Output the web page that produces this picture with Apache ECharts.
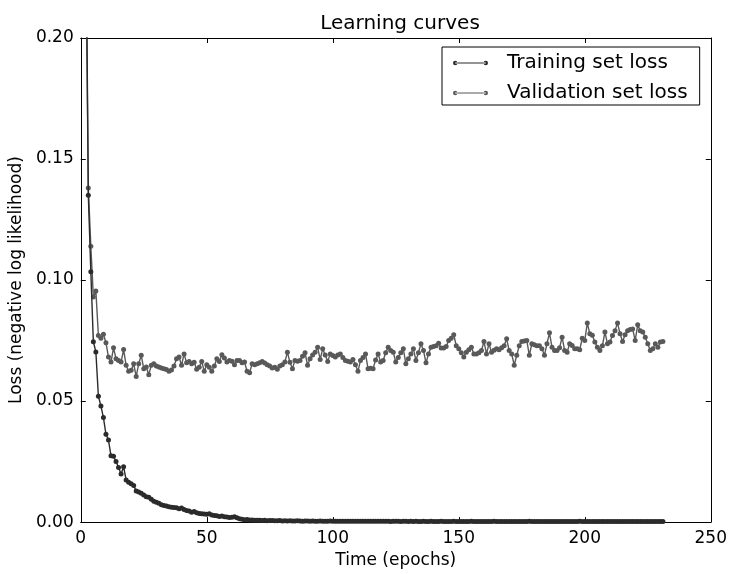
<!DOCTYPE html>
<html>
<head>
<meta charset="utf-8">
<script src="https://cdn.jsdelivr.net/npm/echarts@6/dist/echarts.min.js"></script>
<style>
  html, body { margin: 0; padding: 0; background: #fff; }
  #main { width: 730px; height: 574px; }
</style>
</head>
<body>
<div id="main"></div>
<script>
// loss per epoch (epoch 1 .. 231)
const trainLoss = [
  0.60, 0.26, 0.135, 0.1034, 0.0745, 0.0703, 0.052, 0.048, 0.0432, 0.0363,
  0.0339, 0.0274, 0.0272, 0.025, 0.0226, 0.0199, 0.0229, 0.0174, 0.0165, 0.0158,
  0.0151, 0.0128, 0.0124, 0.0119, 0.0112, 0.0105, 0.0103, 0.0094, 0.0086, 0.0082,
  0.0078, 0.0072, 0.0069, 0.0066, 0.0063, 0.0061, 0.006, 0.0059, 0.0055, 0.0058,
  0.0052, 0.0048, 0.0046, 0.0041, 0.0044, 0.0039, 0.0036, 0.0035, 0.0033, 0.0032,
  0.0034, 0.0029, 0.0027, 0.0026, 0.0023, 0.0025, 0.0022, 0.0021, 0.0019, 0.002,
  0.0022, 0.0018, 0.0014, 0.0012, 0.001, 0.0011, 0.0009, 0.0009, 0.0008, 0.0008,
  0.0008, 0.0007, 0.0008, 0.0006, 0.0007, 0.0007, 0.0006, 0.0006, 0.0007, 0.0005,
  0.0006, 0.0005, 0.0006, 0.0005, 0.0005, 0.0006, 0.0005, 0.0004, 0.0005, 0.0005,
  0.0004, 0.0005, 0.0004, 0.0004, 0.0005, 0.0004, 0.0004, 0.0004, 0.0005, 0.0004,
  0.0004, 0.0003, 0.0004, 0.0004, 0.0003, 0.0004, 0.0003, 0.0003, 0.0004, 0.0003,
  0.0003, 0.0003, 0.0004, 0.0003, 0.0003, 0.0003, 0.0003, 0.0003, 0.0004, 0.0003,
  0.0003, 0.0003, 0.0002, 0.0003, 0.0003, 0.0003, 0.0002, 0.0003, 0.0003, 0.0002,
  0.0003, 0.0002, 0.0003, 0.0002, 0.0002, 0.0003, 0.0002, 0.0002, 0.0003, 0.0002,
  0.0002, 0.0002, 0.0003, 0.0002, 0.0002, 0.0002, 0.0002, 0.0003, 0.0002, 0.0002,
  0.0002, 0.0002, 0.0002, 0.0002, 0.0003, 0.0002, 0.0002, 0.0002, 0.0002, 0.0002,
  0.0002, 0.0002, 0.0002, 0.0003, 0.0002, 0.0002, 0.0002, 0.0002, 0.0002, 0.0002,
  0.0002, 0.0002, 0.0002, 0.0002, 0.0002, 0.0002, 0.0002, 0.0003, 0.0002, 0.0002,
  0.0002, 0.0002, 0.0002, 0.0002, 0.0002, 0.0002, 0.0002, 0.0002, 0.0002, 0.0002,
  0.0002, 0.0002, 0.0002, 0.0002, 0.0002, 0.0002, 0.0002, 0.0003, 0.0002, 0.0002,
  0.0002, 0.0002, 0.0002, 0.0002, 0.0002, 0.0002, 0.0002, 0.0002, 0.0002, 0.0002,
  0.0002, 0.0002, 0.0002, 0.0002, 0.0002, 0.0002, 0.0002, 0.0002, 0.0002, 0.0002,
  0.0002, 0.0002, 0.0002, 0.0002, 0.0002, 0.0002, 0.0002, 0.0002, 0.0002, 0.0002,
  0.0002
];

const validLoss = [
  0.30, 0.24, 0.138, 0.114, 0.093, 0.0955, 0.0771, 0.076, 0.0776, 0.0741,
  0.0682, 0.0661, 0.072, 0.0675, 0.0668, 0.0661, 0.0713, 0.0648, 0.0623, 0.0627,
  0.0654, 0.0602, 0.0654, 0.0689, 0.0634, 0.0641, 0.0609, 0.0648, 0.0654, 0.0645,
  0.0641, 0.0637, 0.0634, 0.063, 0.0623, 0.0628, 0.0645, 0.0675, 0.0682, 0.0648,
  0.0695, 0.0658, 0.0664, 0.0654, 0.066, 0.0631, 0.064, 0.0664, 0.0623, 0.065,
  0.064, 0.0623, 0.0645, 0.0675, 0.0664, 0.0691, 0.0678, 0.0661, 0.0668, 0.0665,
  0.065, 0.0668, 0.0668, 0.0658, 0.0661, 0.0623, 0.0617, 0.0654, 0.065, 0.0654,
  0.0658, 0.0664, 0.0657, 0.065, 0.0645, 0.0637, 0.064, 0.0631, 0.0645, 0.065,
  0.0661, 0.0702, 0.066, 0.0634, 0.0668, 0.0665, 0.0668, 0.0685, 0.07, 0.0648,
  0.0675, 0.069, 0.0702, 0.0722, 0.0672, 0.0716, 0.069, 0.0664, 0.0695, 0.0688,
  0.0682, 0.069, 0.0695, 0.068, 0.0668, 0.0665, 0.0661, 0.0672, 0.065, 0.0623,
  0.0668, 0.068, 0.0695, 0.0634, 0.0636, 0.0634, 0.067, 0.0695, 0.0661, 0.0668,
  0.07, 0.0722, 0.0709, 0.0702, 0.0661, 0.068, 0.07, 0.0716, 0.0654, 0.0675,
  0.0695, 0.0716, 0.0668, 0.07, 0.0737, 0.0709, 0.0658, 0.0695, 0.0722, 0.0725,
  0.0729, 0.0739, 0.0719, 0.0719, 0.0725, 0.075, 0.076, 0.0774, 0.0729, 0.0716,
  0.07, 0.0682, 0.0702, 0.0712, 0.0722, 0.0695, 0.0695, 0.07, 0.0709, 0.0746,
  0.0695, 0.0737, 0.0702, 0.071, 0.0716, 0.0712, 0.072, 0.0729, 0.0757, 0.0709,
  0.0695, 0.0648, 0.0689, 0.0729, 0.0746, 0.0748, 0.075, 0.0689, 0.0737, 0.0733,
  0.0729, 0.0729, 0.0716, 0.0689, 0.0737, 0.0782, 0.0722, 0.0709, 0.0709, 0.072,
  0.0764, 0.0709, 0.0702, 0.0737, 0.073, 0.0716, 0.0716, 0.0712, 0.076, 0.075,
  0.0823, 0.0778, 0.0772, 0.0744, 0.0722, 0.0709, 0.0729, 0.0785, 0.0737, 0.0744,
  0.0771, 0.0791, 0.0823, 0.0778, 0.0746, 0.0774, 0.0791, 0.0796, 0.0798, 0.075,
  0.0815, 0.0791, 0.0785, 0.0764, 0.0737, 0.0709, 0.0716, 0.0737, 0.0722, 0.0744,
  0.0746
];

const seriesNames = ['Training set loss', 'Validation set loss'];
const xTicks = { min: 0, max: 250, step: 50 };
const yTicks = { min: 0, max: 0.2, step: 0.05 };

const epochs = trainLoss.map((_, i) => i + 1);
const pairs = (vals) => vals.map((v, i) => [epochs[i], v]);

const font = 'DejaVu Sans';
// legend icon: short line with a dot at each end, like matplotlib
const legendIcon = 'path://M0.3,2.5a2.2,2.2 0 1,0 4.4,0a2.2,2.2 0 1,0 -4.4,0Z' +
  'M2.5,2H32.5V3H2.5Z' +
  'M30.3,2.5a2.2,2.2 0 1,0 4.4,0a2.2,2.2 0 1,0 -4.4,0Z';

function frameAxis(pos, t) {
  return {
    type: 'value',
    position: pos,
    min: t.min, max: t.max, interval: t.step,
    axisLine: { show: true, onZero: false, lineStyle: { color: '#000', width: 1 } },
    axisTick: { show: true, inside: true, length: 5, lineStyle: { color: '#000' } },
    axisLabel: { show: false },
    splitLine: { show: false }
  };
}

var myChart = echarts.init(document.getElementById('main'));
myChart.setOption({
  animation: false,
  backgroundColor: '#fff',
  title: {
    text: 'Learning curves',
    left: 395, top: 9, textAlign: 'center',
    textStyle: { fontFamily: font, fontSize: 20, fontWeight: 'normal', color: '#000' }
  },
  grid: { left: 80, right: 19, top: 38, bottom: 50 },
  legend: {
    data: seriesNames,
    orient: 'vertical',
    left: 442, top: 47,
    padding: [6, 12, 2, 11],
    itemGap: 10,
    itemWidth: 35, itemHeight: 5,
    icon: legendIcon,
    borderColor: '#000', borderWidth: 1, borderRadius: 0,
    backgroundColor: '#fff',
    textStyle: { fontFamily: font, fontSize: 20, color: '#000', lineHeight: 20, padding: [0, 0, 0, 14] }
  },
  xAxis: [
    {
      type: 'value',
      min: xTicks.min, max: xTicks.max, interval: xTicks.step,
      name: 'Time (epochs)',
      nameLocation: 'middle', nameGap: 28,
      nameTextStyle: { fontFamily: font, fontSize: 17, color: '#000' },
      axisLine: { show: true, onZero: false, lineStyle: { color: '#000', width: 1 } },
      axisTick: { show: true, inside: true, length: 5, lineStyle: { color: '#000' } },
      axisLabel: { margin: 8, fontFamily: font, fontSize: 17, color: '#000' },
      splitLine: { show: false }
    },
    frameAxis('top', xTicks)
  ],
  yAxis: [
    {
      type: 'value',
      min: yTicks.min, max: yTicks.max, interval: yTicks.step,
      name: 'Loss (negative log likelihood)',
      nameLocation: 'middle', nameGap: 52,
      nameTextStyle: { fontFamily: font, fontSize: 17, color: '#000' },
      axisLine: { show: true, onZero: false, lineStyle: { color: '#000', width: 1 } },
      axisTick: { show: true, inside: true, length: 5, lineStyle: { color: '#000' } },
      axisLabel: {
        margin: 7, fontFamily: font, fontSize: 17, color: '#000',
        formatter: (v) => v.toFixed(2)
      },
      splitLine: { show: false }
    },
    frameAxis('right', yTicks)
  ],
  series: [
    {
      name: seriesNames[0],
      type: 'line',
      data: pairs(trainLoss),
      symbol: 'circle', symbolSize: 5, showSymbol: true,
      color: '#2b2b2b',
      lineStyle: { width: 1.4, color: '#2b2b2b' },
      itemStyle: { color: '#2b2b2b' },
      z: 3
    },
    {
      name: seriesNames[1],
      type: 'line',
      data: pairs(validLoss),
      symbol: 'circle', symbolSize: 5, showSymbol: true,
      color: '#595959',
      lineStyle: { width: 1.4, color: '#595959' },
      itemStyle: { color: '#595959' },
      z: 2
    }
  ]
});
</script>
</body>
</html>
